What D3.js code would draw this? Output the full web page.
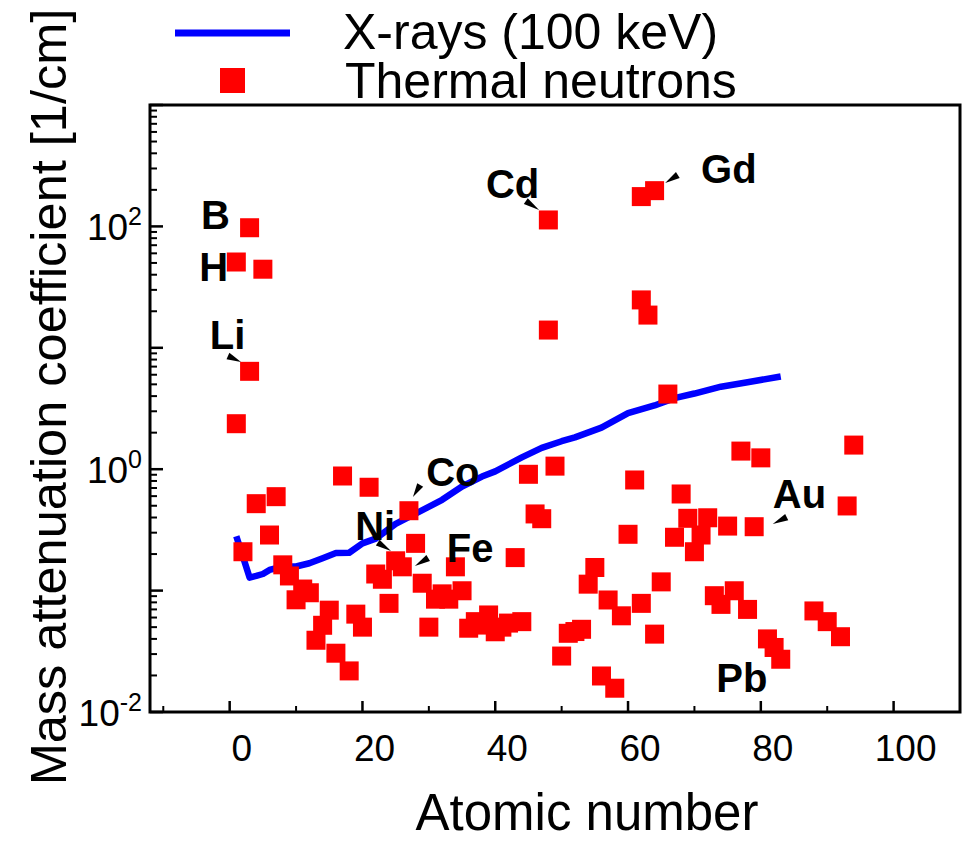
<!DOCTYPE html>
<html>
<head>
<meta charset="utf-8">
<script src="https://cdn.jsdelivr.net/npm/d3@7"></script>
<style>
  body { margin: 0; background: #fff; }
  svg { font-family: "Liberation Sans", Arial, sans-serif; }
</style>
</head>
<body>
<div id="chart"></div>
<script>
// X-ray (100 keV) attenuation curve
const xrayZ = [1, 2, 3, 4, 5, 6, 8, 10, 12, 14, 16, 18, 20, 22, 25, 28, 32, 35, 38, 40, 44, 47, 50, 52, 56, 60, 64, 67, 70, 74, 78, 83];
const xrayMu = [0.28, 0.19, 0.128, 0.132, 0.137, 0.148, 0.158, 0.158, 0.168, 0.185, 0.204, 0.205, 0.245, 0.268, 0.355, 0.43, 0.56, 0.72, 0.87, 0.96, 1.25, 1.5, 1.7, 1.83, 2.2, 2.9, 3.35, 3.85, 4.2, 4.78, 5.2, 5.8];

// thermal neutron attenuation points
const neutronZ = [1, 1, 3, 3, 5, 2, 4, 6, 7, 8, 9, 10, 11, 12, 13, 14, 15, 16, 17, 18, 19, 20, 21, 22, 23, 24, 25, 26, 27, 28, 29, 30, 31, 32, 33, 34, 35, 36, 37, 38, 39, 40, 41, 42, 43, 44, 45, 46, 47, 48, 48, 49, 50, 51, 52, 53, 54, 55, 56, 57, 58, 59, 60, 61, 62, 62, 62, 63, 64, 64, 65, 66, 67, 68, 69, 70, 71, 72, 73, 74, 75, 76, 77, 78, 79, 80, 81, 82, 83, 88, 90, 92, 93, 94];
const neutronMu = [50.9, 2.37, 97.5, 6.4, 44.4, 0.209, 0.52, 0.287, 0.594, 0.163, 0.132, 0.084, 0.103, 0.096, 0.039, 0.0518, 0.069, 0.0305, 0.879, 0.0218, 0.064, 0.05, 0.71, 0.137, 0.124, 0.0785, 0.176, 0.157, 0.455, 0.245, 0.115, 0.05, 0.085, 0.094, 0.085, 0.157, 0.0997, 0.049, 0.0555, 0.052, 0.063, 0.0458, 0.05, 0.054, 0.187, 0.0555, 0.908, 0.428, 0.391, 113, 14.0, 1.06, 0.0289, 0.0445, 0.046, 0.048, 0.113, 0.155, 0.0198, 0.0837, 0.0157, 0.062, 0.291, 0.815, 176, 24.8, 0.0785, 18.6, 197, 0.0438, 0.118, 4.16, 0.275, 0.625, 0.394, 0.209, 0.287, 0.398, 0.0908, 0.077, 0.34, 0.0997, 1.41, 0.07, 0.336, 1.24, 0.04, 0.034, 0.0272, 0.068, 0.0555, 0.0417, 0.498, 1.58];

// element labels: text anchor (Z, log10 mu)
const labelText = ["B", "H", "Li", "Cd", "Gd", "Co", "Ni", "Fe", "Au", "Pb"];
const labelZ = [-4.3, -4.6, -3.0, 38.6, 71.0, 29.6, 18.9, 32.7, 81.8, 73.3];
const labelLog = [1.979, 1.553, 0.99, 2.234, 2.36, -0.138, -0.583, -0.762, -0.32, -1.833];

// small arrow heads: base -> tip (Z, log10 mu)
const arrowBaseZ = [-0.26, 44.6, 67.5, 28.7, 22.3, 29.9, 83.9];
const arrowBaseLog = [0.932, 2.209, 2.423, -0.13, -0.605, -0.731, -0.394];
const arrowTipZ = [1.71, 46.6, 65.6, 27.6, 24.3, 27.9, 81.8];
const arrowTipLog = [0.883, 2.135, 2.357, -0.229, -0.674, -0.797, -0.451];

const xTicks = [0, 20, 40, 60, 80, 100];
const xMinor = [-10, 10, 30, 50, 70, 90];
const yLabelExp = [-2, 0, 2];

const width = 970;
const height = 842;
const margin = { top: 105, right: 10, bottom: 130, left: 150 };

const x = d3.scaleLinear().domain([-12, 110]).range([margin.left, width - margin.right]);
const y = d3.scaleLog().domain([1e-2, 1e3]).range([height - margin.bottom, margin.top]);

const svg = d3.select("#chart")
  .append("svg")
  .attr("width", width)
  .attr("height", height);

// x-ray line
const line = d3.line()
  .x((d, i) => x(xrayZ[i]))
  .y((d) => y(d));

svg.append("path")
  .datum(xrayMu)
  .attr("fill", "none")
  .attr("stroke", "#0000ff")
  .attr("stroke-width", 6.5)
  .attr("stroke-linejoin", "round")
  .attr("d", line);

// neutron squares
const sq = 19;
svg.append("g")
  .selectAll("rect")
  .data(neutronMu)
  .join("rect")
  .attr("x", (d, i) => x(neutronZ[i]) - sq / 2)
  .attr("y", (d) => y(d) - sq / 2)
  .attr("width", sq)
  .attr("height", sq)
  .attr("fill", "#ff0000");

// frame
svg.append("rect")
  .attr("x", margin.left)
  .attr("y", margin.top)
  .attr("width", width - margin.right - margin.left)
  .attr("height", height - margin.bottom - margin.top)
  .attr("fill", "none")
  .attr("stroke", "#000")
  .attr("stroke-width", 3);

// y ticks (inside)
const yMajor = d3.range(-2, 4).map((e) => Math.pow(10, e));
const yMinor = [];
for (let e = -2; e < 3; e++) {
  for (let m = 2; m <= 9; m++) yMinor.push(m * Math.pow(10, e));
}
svg.append("g")
  .selectAll("line")
  .data(yMajor)
  .join("line")
  .attr("x1", margin.left)
  .attr("x2", margin.left + 13)
  .attr("y1", (d) => y(d))
  .attr("y2", (d) => y(d))
  .attr("stroke", "#000")
  .attr("stroke-width", 2.5);
svg.append("g")
  .selectAll("line")
  .data(yMinor)
  .join("line")
  .attr("x1", margin.left)
  .attr("x2", margin.left + 7)
  .attr("y1", (d) => y(d))
  .attr("y2", (d) => y(d))
  .attr("stroke", "#000")
  .attr("stroke-width", 2);

// x ticks (inside)
const yBottom = height - margin.bottom;
svg.append("g")
  .selectAll("line")
  .data(xTicks)
  .join("line")
  .attr("x1", (d) => x(d))
  .attr("x2", (d) => x(d))
  .attr("y1", yBottom)
  .attr("y2", yBottom - 11)
  .attr("stroke", "#000")
  .attr("stroke-width", 2.5);
svg.append("g")
  .selectAll("line")
  .data(xMinor)
  .join("line")
  .attr("x1", (d) => x(d))
  .attr("x2", (d) => x(d))
  .attr("y1", yBottom)
  .attr("y2", yBottom - 6)
  .attr("stroke", "#000")
  .attr("stroke-width", 2);

// x tick labels
svg.append("g")
  .selectAll("text")
  .data(xTicks)
  .join("text")
  .attr("x", (d) => x(d) + 12)
  .attr("y", yBottom + 49)
  .attr("text-anchor", "middle")
  .attr("font-size", 37)
  .text((d) => d);

// y tick labels 10^n
const yl = svg.append("g")
  .selectAll("text")
  .data(yLabelExp)
  .join("text")
  .attr("x", 142)
  .attr("y", (d) => y(Math.pow(10, d)) + 14)
  .attr("text-anchor", "end")
  .attr("font-size", 37);
yl.append("tspan").text("10");
yl.append("tspan")
  .attr("dx", 0)
  .attr("dy", -15)
  .attr("font-size", 25)
  .text((d) => (d < 0 ? "-" : "") + Math.abs(d));

// axis titles
svg.append("text")
  .attr("x", 587)
  .attr("y", 830)
  .attr("text-anchor", "middle")
  .attr("font-size", 51)
  .text("Atomic number");

svg.append("text")
  .attr("transform", "translate(66,397)rotate(-90)")
  .attr("text-anchor", "middle")
  .attr("font-size", 50.5)
  .text("Mass attenuation coefficient [1/cm]");

// element labels
svg.append("g")
  .selectAll("text")
  .data(labelText)
  .join("text")
  .attr("x", (d, i) => x(labelZ[i]))
  .attr("y", (d, i) => y(Math.pow(10, labelLog[i])))
  .attr("font-size", 40)
  .attr("font-weight", "bold")
  .text((d) => d);

// arrow heads
svg.append("g")
  .selectAll("path")
  .data(arrowBaseZ)
  .join("path")
  .attr("d", (d, i) => {
    const bx = x(d), by = y(Math.pow(10, arrowBaseLog[i]));
    const tx = x(arrowTipZ[i]), ty = y(Math.pow(10, arrowTipLog[i]));
    const dx = tx - bx, dy = ty - by;
    const len = Math.hypot(dx, dy);
    const nx = -dy / len * 3.5, ny = dx / len * 3.5;
    return `M${bx + nx},${by + ny}L${tx},${ty}L${bx - nx},${by - ny}Z`;
  })
  .attr("fill", "#000");

// legend
svg.append("line")
  .attr("x1", 175)
  .attr("x2", 290)
  .attr("y1", 33)
  .attr("y2", 33)
  .attr("stroke", "#0000ff")
  .attr("stroke-width", 7);
svg.append("rect")
  .attr("x", 220)
  .attr("y", 68)
  .attr("width", 25)
  .attr("height", 25)
  .attr("fill", "#ff0000");
svg.append("text")
  .attr("x", 343)
  .attr("y", 49)
  .attr("font-size", 50)
  .text("X-rays (100 keV)");
svg.append("text")
  .attr("x", 345)
  .attr("y", 98)
  .attr("font-size", 50)
  .text("Thermal neutrons");
</script>
</body>
</html>
